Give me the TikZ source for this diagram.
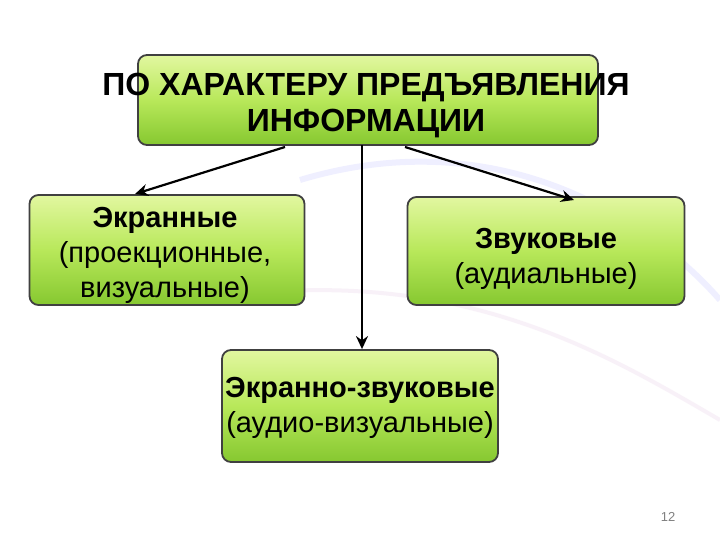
\documentclass[tikz,border=0pt]{standalone}
\usepackage{fontspec}
\usetikzlibrary{arrows.meta}
\setmainfont{Liberation Sans}
\definecolor{gtop}{HTML}{E2F7A0}
\definecolor{gmid}{HTML}{B8E85A}
\definecolor{gbot}{HTML}{86C830}
\begin{document}
\begin{tikzpicture}[x=1pt,y=-1pt,
 gbox/.style={draw=black!75,line width=1.8pt,rounded corners=9pt,top color=gtop,bottom color=gbot,middle color=gmid},
 arr/.style={line width=2.2pt,-{Stealth[length=13pt,width=12pt]}},
 txt/.style={align=center,font=\fontsize{29}{35}\selectfont}]
\useasboundingbox (0,0) rectangle (720,540);
\fill[white] (0,0) rectangle (720,540);
\draw[blue!12,line width=6pt,opacity=0.5] (300,180) .. controls (500,120) and (650,220) .. (720,300);
\draw[violet!10,line width=4pt,opacity=0.5] (200,300) .. controls (450,260) and (600,350) .. (720,420);
\node[gbox,minimum width=460pt,minimum height=90pt] (top) at (368,100) {};
\node[txt,font=\fontsize{32}{36}\selectfont\bfseries] (toptxt) at (366,106) {ПО ХАРАКТЕРУ ПРЕДЪЯВЛЕНИЯ\\ИНФОРМАЦИИ};
\node[gbox,minimum width=275pt,minimum height=110pt] (l) at (167,250) {};
\node[txt] at (165,255) {\textbf{Экранные}\\(проекционные,\\визуальные)};
\node[gbox,minimum width=277pt,minimum height=108pt] (r) at (546,251) {};
\node[txt] at (546,259) {\textbf{Звуковые}\\(аудиальные)};
\node[gbox,minimum width=276pt,minimum height=112pt] (b) at (360,406) {};
\node[txt] at (360,408) {\textbf{Экранно-звуковые}\\(аудио-визуальные)};
\coordinate (la) at (285,147);
\coordinate (ra) at (405,147);
\coordinate (va) at (362,145);
\draw[arr] (la) -- (135,194);
\draw[arr] (ra) -- (574,200);
\draw[arr] (va) -- (b.north -| va);
\node[gray,font=\fontsize{13}{15}\selectfont] (pn) at (668,517) {12};
\end{tikzpicture}
\end{document}
